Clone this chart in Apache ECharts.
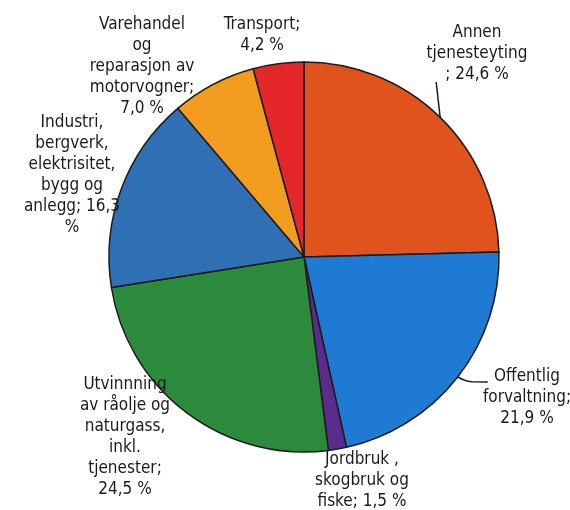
<!DOCTYPE html>
<html>
<head>
<meta charset="utf-8">
<script src="https://cdn.jsdelivr.net/npm/echarts@6/dist/echarts.min.js"></script>
<style>
html,body{margin:0;padding:0;background:#fff;}
#chart{width:570px;height:510px;}
</style>
</head>
<body>
<div id="chart"></div>
<script>
// Data, clockwise from 12 o'clock
var categories = [
  'Annen tjenesteyting',
  'Offentlig forvaltning',
  'Jordbruk, skogbruk og fiske',
  'Utvinning av råolje og naturgass, inkl. tjenester',
  'Industri, bergverk, elektrisitet, bygg og anlegg',
  'Varehandel og reparasjon av motorvogner',
  'Transport'
];
var values = [24.6, 21.9, 1.5, 24.5, 16.3, 7.0, 4.2];
// Label text as printed ({v} = value with decimal comma)
var labelTexts = [
  'Annen\ntjenesteyting\n; {v} %',
  'Offentlig\nforvaltning;\n{v} %',
  'Jordbruk ,\nskogbruk og\nfiske; {v} %',
  'Utvinnning\nav råolje og\nnaturgass,\ninkl.\ntjenester;\n{v} %',
  'Industri,\nbergverk,\nelektrisitet,\nbygg og\nanlegg; {v}\n%',
  'Varehandel\nog\nreparasjon av\nmotorvogner;\n{v} %',
  'Transport;\n{v} %'
];
var colors = ['#e0531d', '#1f7ad3', '#5a2c8c', '#2b8a3b', '#2f6fb3', '#f39d20', '#e4282a'];
var showLine = [true, true, false, false, false, false, false];

// Label placement (center x, top y) in pixels
var labelPos = [
  [477, 22], [527, 366], [362, 449], [125, 374], [72, 112], [142, 14], [262, 14]
];

function fmt(v) { return v.toFixed(1).replace('.', ','); }

var chart = echarts.init(document.getElementById('chart'), null, {renderer: 'canvas'});
chart.setOption({
  backgroundColor: '#ffffff',
  animation: false,
  series: [{
    type: 'pie',
    center: [304, 257],
    radius: [0, 195],
    startAngle: 90,
    clockwise: true,
    avoidLabelOverlap: false,
    itemStyle: {borderColor: '#1c1c1c', borderWidth: 1.5},
    label: {
      show: true,
      position: 'outside',
      fontFamily: '"DejaVu Sans Condensed", "Liberation Sans Narrow", sans-serif',
      fontSize: 17,
      lineHeight: 21,
      color: '#1a1a1a',
      align: 'center',
      formatter: function (p) { return labelTexts[p.dataIndex].replace('{v}', fmt(p.value)); }
    },
    labelLine: {show: false, lineStyle: {color: '#1c1c1c', width: 1.5}},
    labelLayout: function (p) {
      var i = p.dataIndex;
      var pos = labelPos[i];
      var out = {x: pos[0], y: pos[1], align: 'center', verticalAlign: 'top'};
      if (showLine[i] && p.labelLinePoints) {
        var a = p.labelLinePoints[0];
        if (i === 0) {
          out.labelLinePoints = [[a[0], a[1]], [a[0] - 4, pos[1] + 60]];
        } else {
          out.labelLinePoints = [[a[0], a[1]], [a[0] + 9, a[1] + 5], [a[0] + 30, a[1] + 5]];
        }
      }
      return out;
    },
    data: categories.map(function (c, i) {
      return {
        name: c,
        value: values[i],
        itemStyle: {color: colors[i]},
        labelLine: {show: showLine[i], smooth: i === 1 ? 0.4 : 0}
      };
    })
  }]
});
</script>
</body>
</html>
